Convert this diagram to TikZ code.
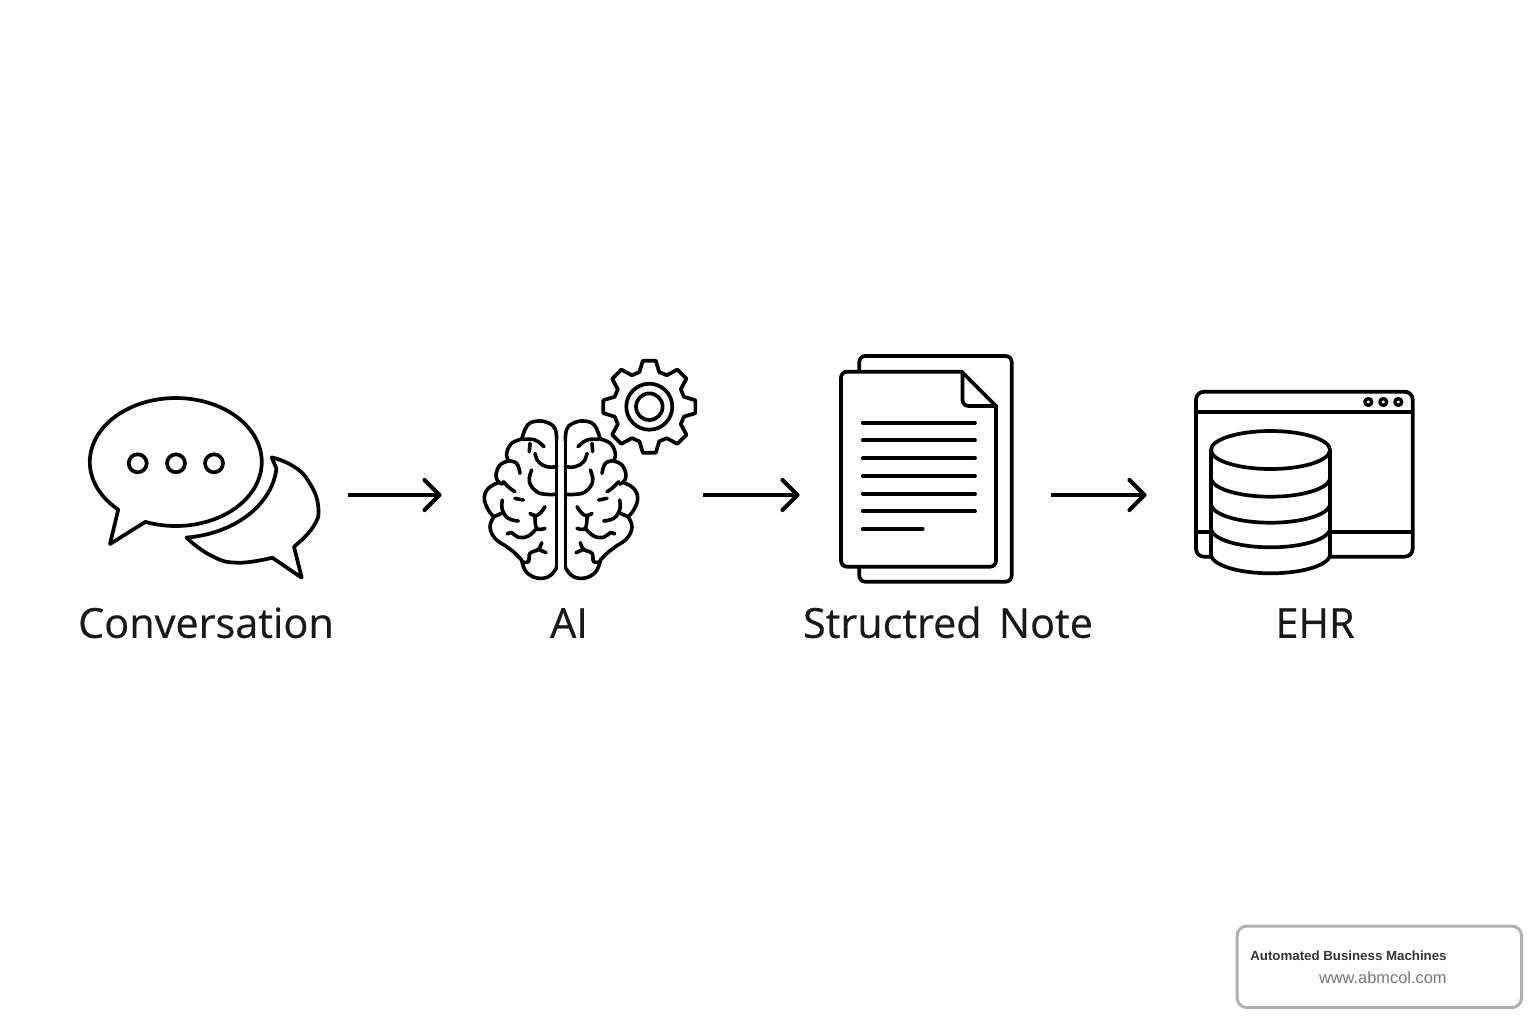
\documentclass[tikz,border=0pt]{standalone}
\usepackage{fontspec}
\setmainfont{Liberation Sans}
\newfontfamily\captionfont[FakeBold=0.5,WordSpace=1.6]{Open Sans}
\usepackage{xcolor}
\usepackage{tikz}
\usetikzlibrary{positioning}
\usetikzlibrary{arrows.meta}
\definecolor{boxgray}{HTML}{B0B0B0}
\definecolor{abmdark}{HTML}{333333}
\definecolor{abmgray}{HTML}{777777}
\tikzstyle{iconbox} = [rectangle, minimum height=95pt, inner sep=0pt]
\tikzstyle{caption} = [font=\captionfont\fontsize{20.7}{24}\selectfont, text=black!90, inner sep=0pt, text height=16pt, text depth=0pt]
\tikzstyle{line} = [draw, line width=2.1pt, -{Straight Barb[length=7.5pt,width=15pt,line cap=round,line join=round]}]
\tikzstyle{icon} = [draw, line width=1.85pt, line join=round, line cap=round]
\tikzstyle{lobe} = [icon, line width=1.8pt]
\newcommand{\lobeplot}[1]{\draw [lobe] plot [smooth, tension=0.7] coordinates {#1};}
\newcommand{\brainhalf}{%
\draw [lobe] (13,272) -- (13,652);
\lobeplot{(13,272)(17,238)(35,220)(68,213)(100,225)(117,265)}
\lobeplot{(117,267)(148,280)(163,310)(158,332)}
\lobeplot{(158,333)(183,345)(195,375)(188,395)(175,402)}
\lobeplot{(188,398)(218,415)(230,445)(218,480)(201,500)}
\lobeplot{(201,500)(213,530)(198,565)(163,590)(143,605)(118,630)}
\lobeplot{(118,630)(108,660)(85,680)(55,685)(30,675)(13,652)}
\lobeplot{(113,268)(78,270)(51,290)}
\lobeplot{(93,280)(95,305)}
\lobeplot{(78,310)(68,335)(43,350)(13,350)}
\lobeplot{(88,360)(95,395)(73,425)(43,433)(13,433)}
\lobeplot{(158,332)(133,340)(123,370)}
\lobeplot{(173,395)(153,415)(138,425)}
\lobeplot{(138,445)(113,450)}
\lobeplot{(176,450)(176,480)(158,505)(128,513)}
\lobeplot{(201,500)(178,490)}
\lobeplot{(48,470)(63,490)(78,497)(93,490)}
\lobeplot{(78,497)(73,535)(48,535)}
\lobeplot{(73,535)(98,558)(128,562)(148,548)(161,552)}
\lobeplot{(58,578)(68,598)(93,610)(98,635)(118,635)}
\lobeplot{(68,598)(45,608)}
}
\begin{document}
\begin{tikzpicture}[x=0.5pt, y=-0.5pt, node distance = 7.5pt, auto]
\useasboundingbox (0,0) rectangle (1536,1024);
    % nodes
\node [iconbox, minimum width=142pt] (conv) at (206,495) {};
\node [iconbox, minimum width=130.5pt] (ai) at (572.5,495) {};
\node [iconbox, minimum width=125.5pt] (note) at (925.5,495) {};
\node [iconbox, minimum width=168pt] (ehr) at (1315,495) {};
\node [caption, below=of conv] (convlabel) {Conversation};
\node [caption, below=of ai, xshift=-1.75pt] (ailabel) {AI};
\node [caption, below=of note, xshift=11.25pt] (notelabel) {Structred Note};
\node [caption, below=of ehr] (ehrlabel) {EHR};
\node [rectangle, draw=boxgray, line width=1.5pt, rounded corners=5pt, minimum width=142.3pt, minimum height=40.8pt, inner sep=0pt] (abmbox) at (1379.3,966.8) {};
\node [anchor=east, inner sep=0pt, text=abmdark, font=\fontsize{6.64}{8}\selectfont\bfseries] (abmname) at (1447,956) {Automated Business Machines};
\node [anchor=east, inner sep=0pt, text=abmgray, font=\fontsize{8.2}{10}\selectfont] (abmurl) at (1447,978) {www.abmcol.com};

    % conversation
\draw [icon] plot [domain=132:470.7, samples=90, smooth] ({175.8+86*cos(\x)},{462+64*sin(\x)}) -- (110,544) -- cycle;
\draw [icon] plot [smooth, tension=0.8] coordinates {(271.7,457.3)(293,466)(309,482)(318.3,507)(313,527)(294,546.7)} -- (301.7,577.7) -- (272.3,557.7) -- plot [smooth, tension=0.8] coordinates {(272.3,557.7)(236.7,562.7)(210,555)(186.4,537.6)} -- plot [domain=84:5, samples=30, smooth] ({175.8+101*cos(\x)},{462+76*sin(\x)}) -- (271.7,457.3);
\foreach \x in {137.7,176,214}
    \draw [icon] (\x,463.3) circle [radius=9];

    % brain and gear
\begin{scope}[shift={(561,350)}, x=-0.16667pt, y=-0.16667pt]
\brainhalf
\end{scope}
\begin{scope}[shift={(561,350)}, x=0.16667pt, y=-0.16667pt]
\brainhalf
\end{scope}
\begin{scope}[shift={(649.3,406.7)}]
\draw [icon] (-16:36) \foreach \a in {0,45,...,315} { -- (\a-16:36) -- (\a-8:46.5) -- (\a+8:46.5) -- (\a+16:36) } -- cycle;
\draw [icon] (0,0) circle [radius=23];
\draw [icon] (0,0) circle [radius=13.3];
\end{scope}

    % document
\draw [icon, rounded corners=3pt] (859.3,371.7) -- (859.3,356) -- (1011.7,356) -- (1011.7,581.7) -- (859.3,581.7) -- (859.3,566.7);
\draw [icon, fill=white, rounded corners=3pt] (961.7,371.7) -- (841,371.7) -- (841,566.7) -- (996,566.7) -- (996,406);
\draw [icon] (961.7,371.7) -- (996,406);
\draw [icon, rounded corners=3pt] (962.5,371.7) -- (962.5,406) -- (996,406);
\foreach \y in {422.7,440.3,458.3,476,493.7,511.3}
    \draw [icon] (862.7,\y) -- (975,\y);
\draw [icon] (862.7,529) -- (922.7,529);

    % window and database
\draw [icon, rounded corners=4pt] (1196,391.7) rectangle (1412.7,556.7);
\draw [icon] (1196,411.7) -- (1412.7,411.7);
\draw [icon] (1196,532.3) -- (1412.7,532.3);
\foreach \x in {1368.3,1383.3,1398.3}
    \draw [icon, line width=1.7pt] (\x,402) circle [radius=3.4];
\fill [white] plot [domain=180:0, samples=40] ({1270.5+59.5*cos(\x)},{450-19*sin(\x)}) -- plot [domain=0:180, samples=40] ({1270.5+59.5*cos(\x)},{554.3+19*sin(\x)}) -- cycle;
\draw [icon] (1211,450) -- (1211,554.3) plot [domain=180:0, samples=40, smooth] ({1270.5+59.5*cos(\x)},{554.3+19*sin(\x)}) -- (1330,450);
\draw [icon] (1270.5,450) ellipse [x radius=59.5, y radius=19];
\foreach \y in {477.7,503.7,528.3}
    \draw [icon] plot [domain=180:0, samples=40, smooth] ({1270.5+59.5*cos(\x)},{\y+19*sin(\x)});

    %edges
\path [line] (conv) -- (ai);
\path [line] (ai) -- (note);
\path [line] (note) -- (ehr);
\end{tikzpicture}
\end{document}
